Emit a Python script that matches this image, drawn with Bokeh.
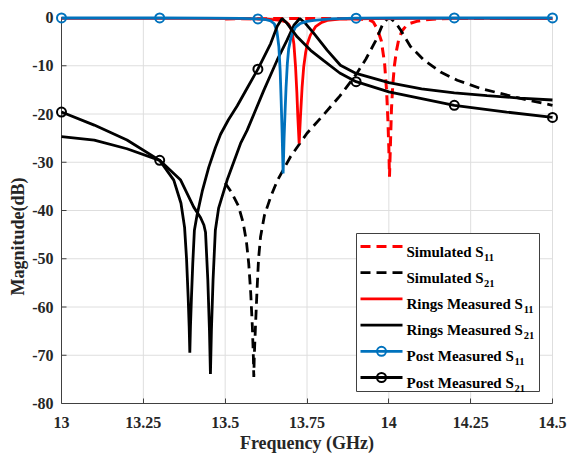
from bokeh.plotting import figure
from bokeh.models import Range1d, FixedTicker, Title
from bokeh.core.properties import value
from bokeh.embed import file_html
from bokeh.resources import INLINE

# ---------------- measured / simulated responses (GHz, dB) ----------------
sim_s11_f = [13.50, 13.60, 13.70, 13.80, 13.88, 13.92, 13.94, 13.952, 13.965, 13.977,
             13.987, 13.993, 13.997, 14.000, 14.002, 14.005, 14.008, 14.012, 14.017, 14.023,
             14.030, 14.040, 14.052, 14.066, 14.085, 14.11, 14.16, 14.25, 14.35, 14.50]
sim_s11_db = [-0.3, -0.25, -0.2, -0.2, -0.25, -0.35, -0.5, -0.9, -2.4, -4.8,
              -9.5, -15.0, -21.0, -27.0, -33.0, -26.0, -19.0, -14.0, -10.0, -7.0,
              -4.6, -2.8, -1.8, -1.2, -0.8, -0.5, -0.25, -0.2, -0.2, -0.2]

sim_s21_f = [13.50, 13.52, 13.54, 13.555, 13.565, 13.572, 13.578, 13.583, 13.586, 13.5875,
             13.589, 13.592, 13.597, 13.602, 13.608, 13.62, 13.64, 13.66, 13.70, 13.75,
             13.80, 13.85, 13.90, 13.93, 13.96, 13.98, 13.995, 14.005, 14.02, 14.036,
             14.066, 14.107, 14.158, 14.209, 14.28, 14.362, 14.423, 14.50]
sim_s21_db = [-34.3, -36.3, -39.0, -42.5, -46.5, -51.0, -57.0, -64.0, -70.0, -74.5,
              -70.0, -65.0, -57.0, -50.0, -45.5, -41.0, -37.0, -33.7, -28.8, -24.0,
              -20.2, -16.3, -11.8, -8.6, -4.8, -1.6, -0.3, -0.2, -1.0, -2.6,
              -6.0, -8.8, -11.3, -13.0, -14.7, -16.1, -17.1, -18.2]

rings_s11_f = [13.00, 13.20, 13.40, 13.55, 13.63, 13.67, 13.685, 13.694, 13.700, 13.705,
               13.710, 13.715, 13.719, 13.722, 13.726, 13.730, 13.735, 13.740, 13.746, 13.751,
               13.760, 13.776, 13.795, 13.812, 13.85, 13.95, 14.10, 14.30, 14.50]
rings_s11_db = [-0.2, -0.2, -0.2, -0.25, -0.35, -0.6, -0.9, -1.4, -2.2, -3.3,
                -5.5, -10.2, -15.5, -20.6, -26.1, -20.6, -14.5, -10.2, -7.2, -5.5,
                -3.7, -1.9, -1.0, -0.6, -0.35, -0.25, -0.2, -0.2, -0.25]

rings_s21_f = [13.00, 13.10, 13.20, 13.30, 13.364, 13.404, 13.425, 13.435, 13.440, 13.447,
               13.452, 13.455, 13.458, 13.463, 13.470, 13.48, 13.506, 13.547, 13.567, 13.618,
               13.659, 13.689, 13.710, 13.728, 13.745, 13.771, 13.812, 13.852, 13.90, 14.00,
               14.10, 14.20, 14.30, 14.40, 14.50]
rings_s21_db = [-24.7, -25.4, -27.2, -29.6, -33.7, -39.3, -41.5, -43.0, -44.5, -54.4,
                -64.8, -73.9, -64.8, -54.4, -44.1, -39.5, -33.7, -26.1, -23.4, -15.1,
                -8.8, -4.7, -1.6, -0.2, -1.2, -3.3, -6.8, -9.9, -11.6, -13.5,
                -14.8, -15.6, -16.2, -16.7, -17.1]

post_s11_f = [13.00, 13.15, 13.30, 13.45, 13.55, 13.60, 13.625, 13.639, 13.650, 13.658,
              13.664, 13.668, 13.671, 13.674, 13.677, 13.680, 13.683, 13.686, 13.690, 13.694,
              13.700, 13.705, 13.715, 13.730, 13.750, 13.771, 13.82, 13.90, 14.05, 14.20,
              14.35, 14.50]
post_s11_db = [-0.1, -0.1, -0.1, -0.12, -0.2, -0.3, -0.45, -0.7, -1.3, -2.8,
               -6.0, -11.0, -17.1, -24.0, -32.3, -25.0, -19.5, -14.5, -9.5, -6.5,
               -4.5, -3.3, -2.0, -1.2, -0.8, -0.6, -0.3, -0.15, -0.1, -0.1,
               -0.1, -0.1]

post_s21_f = [13.00, 13.10, 13.20, 13.30, 13.343, 13.365, 13.376, 13.382, 13.387, 13.390,
              13.392, 13.394, 13.397, 13.401, 13.406, 13.414, 13.43, 13.45, 13.47, 13.486,
              13.51, 13.537, 13.57, 13.60, 13.639, 13.659, 13.674, 13.689, 13.72, 13.761,
              13.80, 13.85, 13.90, 14.00, 14.10, 14.20, 14.36, 14.50]
post_s21_db = [-19.6, -22.3, -25.4, -29.6, -33.7, -38.5, -43.5, -50.0, -58.0, -64.0,
               -69.5, -64.0, -58.0, -51.0, -44.1, -41.0, -36.0, -31.0, -27.0, -24.2,
               -21.2, -18.3, -14.3, -10.7, -5.4, -1.8, -0.2, -1.2, -4.0, -6.8,
               -8.9, -11.5, -13.3, -15.4, -16.8, -18.2, -19.6, -20.7]

# frequencies where the post measurements carry a marker
post_marker_f = [13.0, 13.3, 13.6, 13.9, 14.2, 14.5]

x_ticks = [13.0, 13.25, 13.5, 13.75, 14.0, 14.25, 14.5]
x_tick_labels = ["13", "13.25", "13.5", "13.75", "14", "14.25", "14.5"]
y_ticks = [0, -10, -20, -30, -40, -50, -60, -70, -80]
y_tick_labels = ["0", "-10", "-20", "-30", "-40", "-50", "-60", "-70", "-80"]

legend_labels = [("Simulated S", "11"), ("Simulated S", "21"),
                 ("Rings Measured S", "11"), ("Rings Measured S", "21"),
                 ("Post Measured S", "11"), ("Post Measured S", "21")]

# ---------------- layout ----------------
FONT = "Liberation Serif"
RED, BLUE, BLACK = "#FF0000", "#0072BD", "#000000"
AXIS_GREY, GRID_GREY = "#404040", "#dedede"

W, H = 569, 457
F_LO, F_HI = 13.0, 14.5
DB_LO, DB_HI = -80.0, 0.0
PX_PER_GHZ = 327.33
PX_PER_DB = 4.825
PAD_X, PAD_TOP = 6, 7          # room so edge markers are not clipped
FRAME_LEFT, FRAME_TOP = 55, 10

x0 = F_LO - PAD_X / PX_PER_GHZ
x1 = F_HI + PAD_X / PX_PER_GHZ
y0 = DB_LO
y1 = DB_HI + PAD_TOP / PX_PER_DB
frame_w = round((x1 - x0) * PX_PER_GHZ)
frame_h = round((y1 - y0) * PX_PER_DB)
TICK_DX = 5 / PX_PER_GHZ       # 5 px inward tick on the left axis


def px_to_data(px, py):
    """Canvas pixel -> data coordinates (for the hand-built legend)."""
    fx = x0 + (px - FRAME_LEFT) / frame_w * (x1 - x0)
    fy = y1 - (py - FRAME_TOP) / frame_h * (y1 - y0)
    return fx, fy


p = figure(width=W, height=H, frame_width=frame_w, frame_height=frame_h,
           x_range=Range1d(x0, x1), y_range=Range1d(y0, y1),
           output_backend="svg", toolbar_location=None,
           min_border_left=FRAME_LEFT, min_border_top=FRAME_TOP,
           min_border_right=W - FRAME_LEFT - frame_w,
           min_border_bottom=H - FRAME_TOP - frame_h)
p.outline_line_color = None
p.background_fill_color = "white"
p.border_fill_color = "white"
p.grid.visible = False

# grid lines limited to the axes box
p.segment(x0=x_ticks, y0=[DB_LO] * len(x_ticks), x1=x_ticks, y1=[DB_HI] * len(x_ticks),
          line_color=GRID_GREY, line_width=1)
p.segment(x0=[F_LO] * len(y_ticks), y0=y_ticks, x1=[F_HI] * len(y_ticks), y1=y_ticks,
          line_color=GRID_GREY, line_width=1)

# left axis line and its inward ticks sit at 13 GHz
p.segment(x0=[F_LO], y0=[DB_LO], x1=[F_LO], y1=[DB_HI], line_color=AXIS_GREY, line_width=1)
p.segment(x0=[F_LO] * len(y_ticks), y0=y_ticks, x1=[F_LO + TICK_DX] * len(y_ticks), y1=y_ticks,
          line_color=AXIS_GREY, line_width=1)

# axes
xa = p.xaxis[0]
ya = p.yaxis[0]
xa.ticker = FixedTicker(ticks=x_ticks)
ya.ticker = FixedTicker(ticks=y_ticks)
xa.major_label_overrides = dict(zip(x_ticks, x_tick_labels))
ya.major_label_overrides = dict(zip(y_ticks, y_tick_labels))
xa.bounds = (F_LO, F_HI)
ya.bounds = (DB_LO, DB_HI)
for ax in (xa, ya):
    ax.axis_line_color = AXIS_GREY
    ax.axis_line_width = 1
    ax.major_tick_line_color = AXIS_GREY
    ax.major_tick_in = 5
    ax.major_tick_out = 0
    ax.minor_tick_line_color = None
    ax.major_label_text_font = FONT
    ax.major_label_text_font_style = "bold"
    ax.major_label_text_font_size = "16px"
    ax.major_label_text_color = "#262626"
ya.axis_line_color = None
ya.major_tick_line_color = None
xa.major_label_standoff = 13
ya.major_label_standoff = 2
xa.axis_label = "Frequency (GHz)"
xa.axis_label_standoff = 2
xa.axis_label_text_font = FONT
xa.axis_label_text_font_style = "bold"
xa.axis_label_text_font_size = "18px"
xa.axis_label_text_color = "#262626"

# y label as a left-side title, nudged a little below the axis middle
p.add_layout(Title(text="Magnitude(dB)", align="left", vertical_align="bottom",
                   offset=108, standoff=4, text_font=FONT, text_font_style="bold",
                   text_font_size="18px", text_color="#262626"), "left")

# curves
LW = 2.8
DASH = "10 6"
p.line(sim_s11_f, sim_s11_db, line_color=RED, line_width=3, line_dash=DASH)
p.line(sim_s21_f, sim_s21_db, line_color=BLACK, line_width=LW, line_dash=DASH)
p.line(rings_s11_f, rings_s11_db, line_color=RED, line_width=LW)
p.line(rings_s21_f, rings_s21_db, line_color=BLACK, line_width=LW)
p.line(post_s11_f, post_s11_db, line_color=BLUE, line_width=LW)
p.line(post_s21_f, post_s21_db, line_color=BLACK, line_width=LW)


def marker_points(fs, dbs):
    pts = [(f, d) for f, d in zip(fs, dbs) if any(abs(f - m) < 1e-9 for m in post_marker_f)]
    return [a for a, _ in pts], [b for _, b in pts]


mx, my = marker_points(post_s11_f, post_s11_db)
p.scatter(mx, my, marker="circle", size=9, line_color=BLUE, line_width=2, fill_alpha=0)
mx, my = marker_points(post_s21_f, post_s21_db)
p.scatter(mx, my, marker="circle", size=9, line_color=BLACK, line_width=2, fill_alpha=0)

# ---------------- legend (drawn by hand for the subscripts) ----------------
# Times/Liberation Serif Bold advance widths, per 1000 em
ADV = {"S": 556, "i": 278, "m": 833, "u": 556, "l": 278, "a": 500, "t": 333, "e": 444,
       "d": 556, " ": 250, "R": 722, "n": 556, "g": 500, "s": 389, "M": 944, "r": 444,
       "P": 611, "o": 500}
MAIN_PX, SUB_PX = 15.0, 10.5

box_l, box_t = px_to_data(356, 233)
box_r, box_b = px_to_data(539, 391)
p.quad(left=[box_l], right=[box_r], top=[box_t], bottom=[box_b],
       fill_color="white", line_color=AXIS_GREY, line_width=1)

styles = [dict(line_color=RED, line_dash=DASH, line_width=3),
          dict(line_color=BLACK, line_dash=DASH, line_width=LW),
          dict(line_color=RED, line_width=LW),
          dict(line_color=BLACK, line_width=LW),
          dict(line_color=BLUE, line_width=LW),
          dict(line_color=BLACK, line_width=LW)]
markers = [None, None, None, None, BLUE, BLACK]

row0, row_step = 246.0, 26.2
sample_l, sample_r, text_x = 360, 402, 406
main_x, main_y, main_t, sub_x, sub_y, sub_t = [], [], [], [], [], []
for i, ((main, sub), st, mk) in enumerate(zip(legend_labels, styles, markers)):
    ry = row0 + i * row_step
    (lx0, ly), (lx1, _) = px_to_data(sample_l, ry), px_to_data(sample_r, ry)
    p.line([lx0, lx1], [ly, ly], **st)
    if mk:
        cx, cy = px_to_data((sample_l + sample_r) / 2, ry)
        p.scatter([cx], [cy], marker="circle", size=9, line_color=mk, line_width=2, fill_alpha=0)
    tx, ty = px_to_data(text_x, ry + 5)
    main_x.append(tx); main_y.append(ty); main_t.append(main)
    w = sum(ADV[c] for c in main) / 1000 * MAIN_PX
    sx, sy = px_to_data(text_x + w + 0.5, ry + 10.5)
    sub_x.append(sx); sub_y.append(sy); sub_t.append(sub)

p.text(main_x, main_y, text=main_t, text_font=value(FONT), text_font_style="bold",
       text_font_size="15px", text_baseline="alphabetic", text_align="left", text_color="black")
p.text(sub_x, sub_y, text=sub_t, text_font=value(FONT), text_font_style="bold",
       text_font_size="10.5px", text_baseline="alphabetic", text_align="left", text_color="black")

open("out.html", "w").write(file_html(p, INLINE))
